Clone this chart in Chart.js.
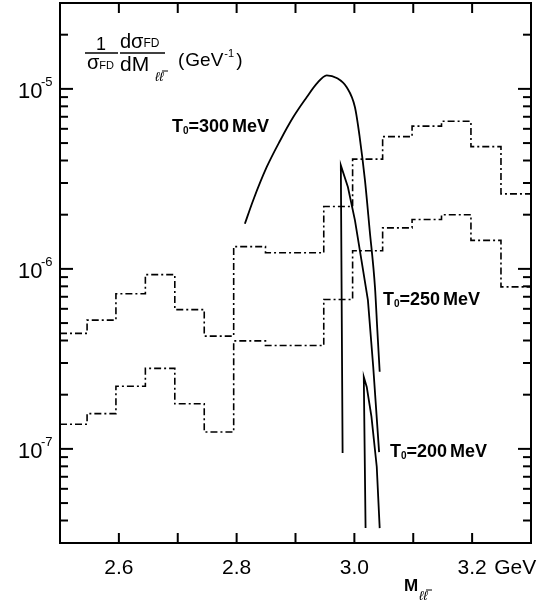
<!DOCTYPE html>
<html>
<head>
<meta charset="utf-8">
<script src="https://cdn.jsdelivr.net/npm/chart.js@4.4.1/dist/chart.umd.min.js"></script>
<style>
  html, body { margin: 0; padding: 0; background: #fff; }
  #wrap { position: relative; width: 546px; height: 600px; }
</style>
</head>
<body>
<div id="wrap"><canvas id="chart" width="546" height="600"></canvas></div>
<script>
// ─── DATA ────────────────────────────────────────────────────────
// histogram bin edges (GeV) and bin contents (GeV^-1)
const binEdges  = [2.5, 2.546, 2.595, 2.645, 2.695, 2.745, 2.795, 2.849, 2.948, 2.997, 3.048, 3.098, 3.148, 3.198, 3.249, 3.3];
const histUpper = [4.38e-7, 5.19e-7, 7.27e-7, 9.29e-7, 5.94e-7, 4.23e-7, 1.33e-6, 1.23e-6, 2.22e-6, 4.07e-6, 5.43e-6, 6.21e-6, 6.61e-6, 4.78e-6, 2.61e-6];
const histLower = [1.37e-7, 1.57e-7, 2.23e-7, 2.80e-7, 1.78e-7, 1.24e-7, 3.98e-7, 3.75e-7, 6.76e-7, 1.26e-6, 1.69e-6, 1.88e-6, 2.00e-6, 1.44e-6, 7.94e-7];

// thermal curves
const t300M = [2.814, 2.828, 2.851, 2.874, 2.896, 2.919, 2.936, 2.953, 2.970, 2.987, 3.001, 3.009, 3.018, 3.026, 3.035, 3.039, 3.043];
const t300V = [1.78e-6, 2.40e-6, 3.67e-6, 5.17e-6, 6.95e-6, 8.98e-6, 1.07e-5, 1.19e-5, 1.15e-5, 1.02e-5, 7.9e-6, 5.4e-6, 3.1e-6, 1.64e-6, 7.9e-7, 4.56e-7, 2.68e-7];
const t250M = [2.980, 2.977, 2.989, 3.001, 3.012, 3.023, 3.032, 3.042];
const t250V = [9.5e-8, 3.76e-6, 2.85e-6, 1.86e-6, 1.12e-6, 6.7e-7, 2.86e-7, 9.6e-8];
const t200M = [3.019, 3.016, 3.021, 3.029, 3.038, 3.043];
const t200V = [3.63e-8, 2.51e-7, 2.21e-7, 1.51e-7, 7.96e-8, 3.63e-8];

// axis ticks
const xTicks     = [2.6, 2.7, 2.8, 2.9, 3.0, 3.1, 3.2];
const xLabels    = ['2.6', '', '2.8', '', '3.0', '', '3.2'];
const yDecades   = [1e-8, 1e-7, 1e-6, 1e-5];
const yMajor     = [1e-7, 1e-6, 1e-5];
const yMajorExp  = ['-7', '-6', '-5'];
const yMinorMult = [2, 3, 4, 5, 6, 7, 8, 9];

// ─── helpers ─────────────────────────────────────────────────────
const toPts = (xs, ys) => xs.map((x, i) => ({ x, y: ys[i] }));
// stepped histogram: one point per left edge, plus closing point at last edge
const histPts = (vals) => binEdges.map((e, i) => ({ x: e, y: vals[Math.min(i, vals.length - 1)] }));

const SANS = '"Liberation Sans", Arial, sans-serif';

function drawParts(ctx, x, y, parts) {
  // parts: [text, font, dy, gapAfter]
  let cx = x;
  parts.forEach(([t, font, dy, gap]) => {
    ctx.font = font;
    ctx.fillText(t, cx, y + (dy || 0));
    cx += ctx.measureText(t).width + (gap || 0);
  });
  return cx;
}

// ─── frame, inward ticks, labels ─────────────────────────────────
const framePlugin = {
  id: 'frame',
  afterDraw(chart) {
    const { ctx, chartArea: a, scales: { x, y } } = chart;
    ctx.save();
    ctx.strokeStyle = '#000';
    ctx.fillStyle = '#000';

    ctx.lineWidth = 2;
    ctx.strokeRect(a.left, a.top, a.right - a.left, a.bottom - a.top);

    const seg = (x1, y1, x2, y2) => { ctx.beginPath(); ctx.moveTo(x1, y1); ctx.lineTo(x2, y2); ctx.stroke(); };

    // x ticks top and bottom
    ctx.lineWidth = 2;
    xTicks.forEach(v => {
      const px = x.getPixelForValue(v);
      seg(px, a.bottom, px, a.bottom - 10);
      seg(px, a.top, px, a.top + 10);
    });

    // y ticks left and right
    yDecades.forEach(d => {
      yMinorMult.forEach(k => {
        const v = k * d;
        if (v <= y.min || v >= y.max) return;
        const py = y.getPixelForValue(v);
        seg(a.left, py, a.left + 8, py);
        seg(a.right, py, a.right - 8, py);
      });
    });
    yMajor.forEach(v => {
      const py = y.getPixelForValue(v);
      seg(a.left, py, a.left + 13, py);
      seg(a.right, py, a.right - 13, py);
    });

    // x tick labels
    ctx.textBaseline = 'alphabetic';
    ctx.textAlign = 'center';
    ctx.font = '21px ' + SANS;
    xTicks.forEach((v, i) => {
      if (!xLabels[i]) return;
      ctx.fillText(xLabels[i], x.getPixelForValue(v), 574);
    });
    ctx.textAlign = 'left';
    ctx.fillText('GeV', x.getPixelForValue(3.2) + 22, 574);

    // y tick labels 10^n
    yMajor.forEach((v, i) => {
      const py = y.getPixelForValue(v);
      ctx.font = '22px ' + SANS;
      ctx.fillText('10', 18, py + 9);
      ctx.font = '13px ' + SANS;
      ctx.fillText(yMajorExp[i], 41, py - 3);
    });

    // x axis title  M_ll̄
    ctx.font = 'bold 17px ' + SANS;
    ctx.fillText('M', 404, 591);
    ctx.font = 'italic 13px ' + SANS;
    ctx.fillText('ℓℓ', 419, 600);
    ctx.lineWidth = 1;
    seg(426, 590, 432, 590);

    // y axis title  1/σ_FD dσ_FD/dM_ll̄ (GeV^-1)
    ctx.font = '18px ' + SANS;
    ctx.textAlign = 'center';
    ctx.fillText('1', 101, 50);
    ctx.textAlign = 'left';
    ctx.lineWidth = 1.3;
    seg(85, 53, 118, 53);
    drawParts(ctx, 87, 69, [['σ', '20px ' + SANS, 0, 0], ['FD', '11px ' + SANS, 0, 0]]);
    drawParts(ctx, 120, 48, [['d', '20px ' + SANS, 0, 0], ['σ', '20px ' + SANS, 0, 0], ['FD', '12px ' + SANS, -1, 0]]);
    seg(120, 53, 165, 53);
    drawParts(ctx, 120, 71, [['dM', '21px ' + SANS, 0, 1]]);
    ctx.font = 'italic 13px ' + SANS;
    ctx.fillText('ℓℓ', 155, 81);
    ctx.lineWidth = 1;
    seg(162, 71, 168, 71);
    drawParts(ctx, 178, 66, [['(', '19px ' + SANS, 0, 1], ['GeV', '19px ' + SANS, 0, 1], ['-1', '11px ' + SANS, -9, 2], [')', '19px ' + SANS, 0, 0]]);

    // curve labels
    const bold = 'bold 18px ' + SANS;
    const sub = 'bold 10px ' + SANS;
    const lbl = (t, lx, ly) => drawParts(ctx, lx, ly, [['T', bold, 0, 0], ['0', sub, 2, 0], ['=' + t, bold, 0, 3], ['MeV', bold, 0, 0]]);
    lbl('300', 172, 132);
    lbl('250', 383, 305);
    lbl('200', 390, 457);

    ctx.restore();
  }
};

// ─── chart ───────────────────────────────────────────────────────
const dashDot = [7, 3, 2, 3];
const curveStyle = { showLine: true, borderColor: '#000', borderWidth: 1.8, pointRadius: 0, fill: false };

new Chart(document.getElementById('chart'), {
  type: 'scatter',
  data: {
    datasets: [
      { label: 'hist upper', data: histPts(histUpper), showLine: true, stepped: 'before',
        borderColor: '#000', borderWidth: 1.6, borderDash: dashDot, pointRadius: 0 },
      { label: 'hist lower', data: histPts(histLower), showLine: true, stepped: 'before',
        borderColor: '#000', borderWidth: 1.6, borderDash: dashDot, pointRadius: 0 },
      { label: 'T0=300MeV', data: toPts(t300M, t300V), ...curveStyle, cubicInterpolationMode: 'monotone' },
      { label: 'T0=250MeV', data: toPts(t250M, t250V), ...curveStyle, tension: 0 },
      { label: 'T0=200MeV', data: toPts(t200M, t200V), ...curveStyle, tension: 0 }
    ]
  },
  options: {
    responsive: false,
    animation: false,
    devicePixelRatio: 1,
    layout: { padding: { left: 60, top: 3, right: 15, bottom: 57 } },
    plugins: { legend: { display: false }, tooltip: { enabled: false } },
    scales: {
      x: { type: 'linear', min: 2.5, max: 3.3, display: false },
      y: { type: 'logarithmic', min: 3e-8, max: 3e-5, display: false }
    }
  },
  plugins: [framePlugin]
});
</script>
</body>
</html>
